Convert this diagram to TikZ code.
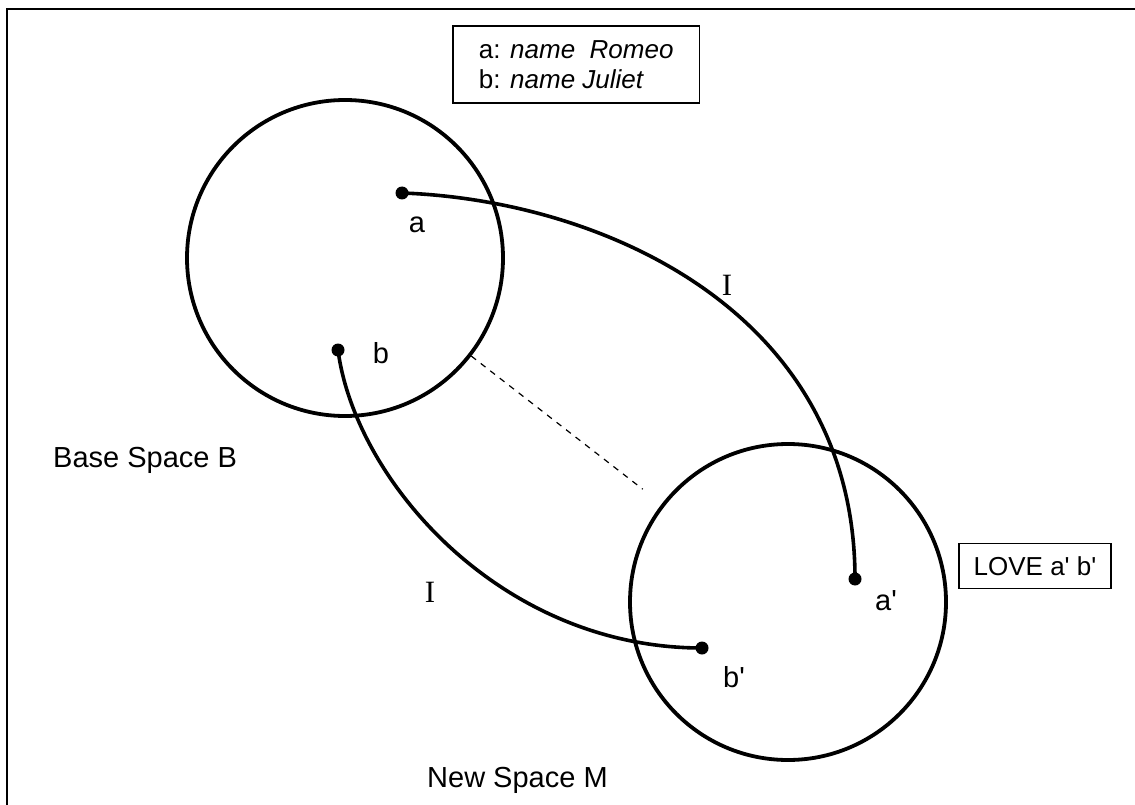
\documentclass[tikz,border=0pt]{standalone}
\usepackage{fontspec}
\newfontfamily\arialf{Liberation Sans}
\newfontfamily\tnrf{Liberation Serif}
\begin{document}
\begin{tikzpicture}[x=1pt,y=-1pt,
  lab/.style={font=\arialf\fontsize{29}{30}\selectfont, inner sep=0pt},
  ilab/.style={font=\tnrf\fontsize{31}{31}\selectfont, inner sep=0pt},
  space/.style={circle, draw, line width=3.8pt, inner sep=0pt, minimum size=316pt},
  dotnode/.style={circle, fill, inner sep=0pt, minimum size=13pt},
  link/.style={line width=3.6pt},
  boxnode/.style={draw, line width=1.8pt, font=\arialf\fontsize{26}{30}\selectfont},
  frameline/.style={line width=2.6pt}]
\useasboundingbox (0,0) rectangle (1135,805);
% frame
\coordinate (f1) at (7,805);
\coordinate (f2) at (7,9);
\coordinate (f3) at (1135,9);
\draw[frameline] (f1) -- (f2) -- (f3);
% spaces
\node[space] (B) at (345,258) {};
\node[space] (M) at (788,602) {};
% dashed
\draw[dashed, line width=1.2pt, dash pattern=on 6pt off 6pt, shorten >=24pt] (B) -- (M);
% dots
\node[dotnode] (a) at (402,193) {};
\node[dotnode] (b) at (338,350) {};
\node[dotnode] (a2) at (855,579) {};
\node[dotnode] (b2) at (702,648) {};
% links
\draw[link] (a.center) .. controls (600,200) and (855,310) .. (a2.center);
\draw[link] (b.center) .. controls (355,480) and (500,648) .. (b2.center);
% labels
\node[lab, anchor=base] (la) at (417,233) {a};
\node[lab, anchor=base] (lb) at (381,363) {b};
\node[lab, anchor=base west] (la2) at (875,610) {a'};
\node[lab, anchor=base west] (lb2) at (723,687) {b'};
\node[ilab, anchor=base] (i1) at (727,295) {I};
\node[ilab, anchor=base] (i2) at (430,602) {I};
\node[lab, anchor=base west] (lB) at (53,467) {Base Space B};
\node[lab, anchor=base west] (lM) at (427,787) {New Space M};
% boxes
\node[boxnode, anchor=north west, align=left, inner xsep=26pt, minimum height=77pt] (names) at (452,25)
  {a: \textit{name\ \ Romeo}\\ b: \textit{name Juliet}};
\node[boxnode, minimum width=152pt, minimum height=45pt, inner sep=0pt] (love) at (1035,566) {LOVE a' b'};
\end{tikzpicture}
\end{document}
